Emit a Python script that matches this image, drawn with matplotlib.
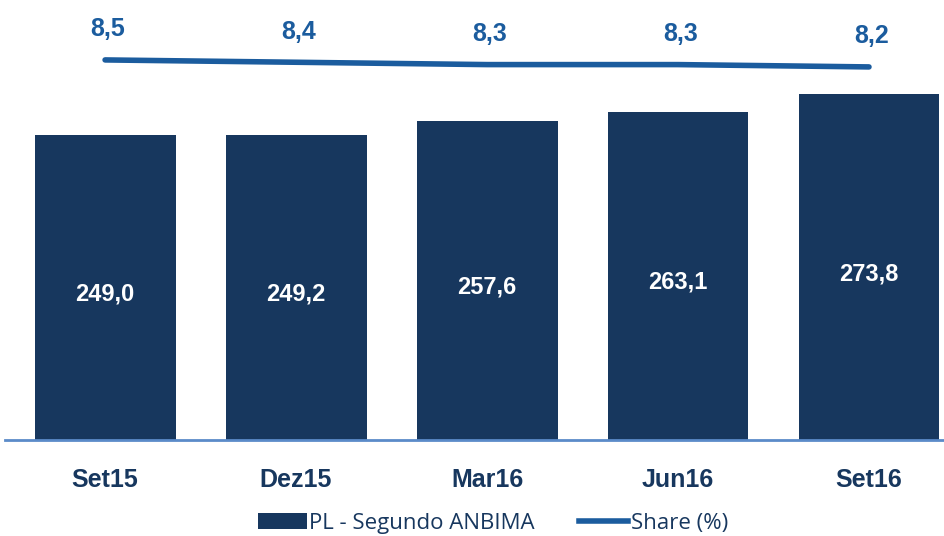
import matplotlib.pyplot as plt
from matplotlib.lines import Line2D
from matplotlib.patches import Patch

periods = ['Set15', 'Dez15', 'Mar16', 'Jun16', 'Set16']
pl_values = [249.0, 249.2, 257.6, 263.1, 273.8]
share_values = [8.5, 8.4, 8.3, 8.3, 8.2]

bar_color = '#17375E'
line_color = '#1B5C9E'


def fmt(v):
    return f'{v:.1f}'.replace('.', ',')


fig = plt.figure(figsize=(9.45, 5.36), dpi=100)
ax = fig.add_axes([5 / 945, 96 / 536, 940 / 945, 440 / 536])
x = list(range(len(periods)))

ax.bar(x, pl_values, width=0.738, color=bar_color, zorder=2)
ax.set_xlim(-0.524, 4.398)
ax.set_ylim(64.5, 330.7)
for xi, v in zip(x, pl_values):
    ax.text(xi, (v + 64.5) / 2 - 4, fmt(v), ha='center', va='center',
            color='white', fontsize=17, fontweight='bold',
            family='Liberation Sans')

for s in ['top', 'right', 'left']:
    ax.spines[s].set_visible(False)
ax.spines['bottom'].set_color('#5B8BC9')
ax.spines['bottom'].set_linewidth(2)
ax.set_yticks([])
ax.set_xticks(x)
ax.set_xticklabels(periods, fontsize=18, fontweight='bold', color=bar_color,
                   family='Liberation Sans')
ax.tick_params(axis='x', length=0, pad=20)

# share (%) on a secondary scale
ax2 = ax.twinx()
ax2.set_ylim(-7.8, 11.07)
ax2.plot(x, share_values, color=line_color, linewidth=4,
         solid_capstyle='round')
for xi, v in zip(x, share_values):
    ax2.annotate(fmt(v), (xi, v), xytext=(2, 22), textcoords='offset points',
                 ha='center', va='center', color=line_color, fontsize=18,
                 fontweight='bold', family='Liberation Sans')
ax2.axis('off')

handles = [Patch(facecolor=bar_color, edgecolor='none'),
           Line2D([], [], color=line_color, linewidth=4)]
fig.legend(handles, ['PL - Segundo ANBIMA', 'Share (%)'],
           loc='center', bbox_to_anchor=(493 / 945, 1 - 523 / 536),
           ncol=2, frameon=False, handlelength=2.2, handletextpad=0.1,
           columnspacing=2.0,
           prop={'family': 'Open Sans', 'size': 16})
for t in fig.legends[0].get_texts():
    t.set_color(bar_color)

fig.savefig('out.png', dpi=100)
